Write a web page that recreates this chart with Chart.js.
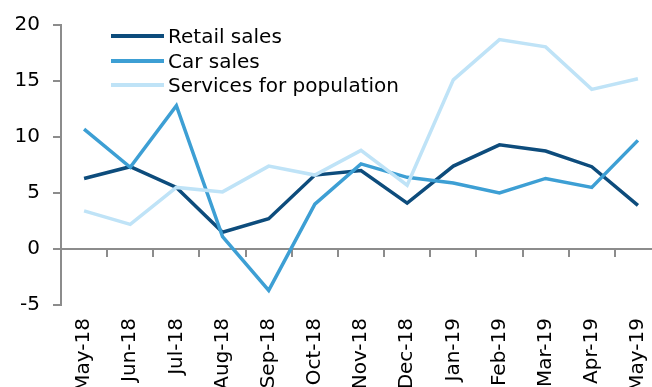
<!DOCTYPE html>
<html>
<head>
<meta charset="utf-8">
<script src="https://cdn.jsdelivr.net/npm/chart.js@4"></script>
<style>
  html, body { margin: 0; padding: 0; background: #fff; }
  #wrap { position: relative; width: 652px; height: 387px; overflow: hidden; }
  #chart { position: absolute; left: 0; top: 0; }
  #legend { position: absolute; left: 111px; top: 24px; font: 20px "DejaVu Sans", sans-serif; color: #000; }
  #legend .item { display: flex; align-items: center; height: 24.5px; }
  #legend .swatch { width: 53px; height: 4px; margin-right: 4px; }
</style>
</head>
<body>
<div id="wrap">
  <canvas id="chart" width="680" height="400"></canvas>
  <div id="legend"></div>
</div>
<script>
// months along the x axis
const months = ['May-18', 'Jun-18', 'Jul-18', 'Aug-18', 'Sep-18', 'Oct-18', 'Nov-18',
  'Dec-18', 'Jan-19', 'Feb-19', 'Mar-19', 'Apr-19', 'May-19'];

// series values
const retailSales = [6.3, 7.35, 5.5, 1.5, 2.7, 6.6, 7.0, 4.1, 7.4, 9.3, 8.75, 7.35, 3.9];
const carSales = [10.7, 7.3, 12.8, 1.1, -3.7, 4.0, 7.6, 6.4, 5.9, 5.0, 6.3, 5.5, 9.7];
const servicesForPopulation = [3.4, 2.2, 5.5, 5.1, 7.4, 6.6, 8.8, 5.7, 15.1, 18.7, 18.05, 14.25, 15.2];

const yTicks = [-5, 0, 5, 10, 15, 20];

const series = [
  { label: 'Retail sales', data: retailSales, color: '#0d4c7c' },
  { label: 'Car sales', data: carSales, color: '#3d9fd4' },
  { label: 'Services for population', data: servicesForPopulation, color: '#bfe3f7' }
];

const font = { family: '"DejaVu Sans", sans-serif', size: 20 };
const axisGrey = '#8c8c8c';

// html legend built from the series
document.getElementById('legend').innerHTML = series.map(s => `
  <div class="item"><span class="swatch" style="background:${s.color}"></span>${s.label}</div>
`).join('');

new Chart(document.getElementById('chart'), {
  type: 'line',
  data: {
    labels: months,
    datasets: series.slice().reverse().map(s => ({
      label: s.label,
      data: s.data,
      borderColor: s.color,
      backgroundColor: s.color,
      borderWidth: 3.5,
      pointRadius: 0,
      tension: 0,
      xAxisID: 'x'
    }))
  },
  options: {
    responsive: false,
    animation: false,
    layout: { padding: { top: 25, right: 19, left: 0, bottom: 0 } },
    plugins: { legend: { display: false }, tooltip: { enabled: false } },
    scales: {
      // axis line + tick marks sitting at zero
      x: {
        type: 'category',
        position: { y: 0 },
        offset: true,
        grid: { offset: true, drawOnChartArea: false, drawTicks: true, tickLength: 7, color: axisGrey, lineWidth: 2 },
        border: { color: axisGrey, width: 2 },
        ticks: { display: false }
      },
      // month labels along the bottom
      x2: {
        type: 'category',
        labels: months,
        position: 'bottom',
        offset: true,
        grid: { display: false, drawTicks: false },
        border: { display: false },
        ticks: { autoSkip: false, minRotation: 90, maxRotation: 90, padding: 13, color: '#000', font },
        afterFit: s => { s.height = 400 - 305; }
      },
      y: {
        min: -5,
        max: 20,
        afterBuildTicks: s => { s.ticks = yTicks.map(v => ({ value: v })); },
        grid: { drawOnChartArea: false, drawTicks: true, tickLength: 8, color: axisGrey, lineWidth: 2 },
        border: { color: axisGrey, width: 2 },
        ticks: { padding: 13, color: '#000', font },
        afterFit: s => { s.width = 61; }
      }
    }
  }
});
</script>
</body>
</html>
